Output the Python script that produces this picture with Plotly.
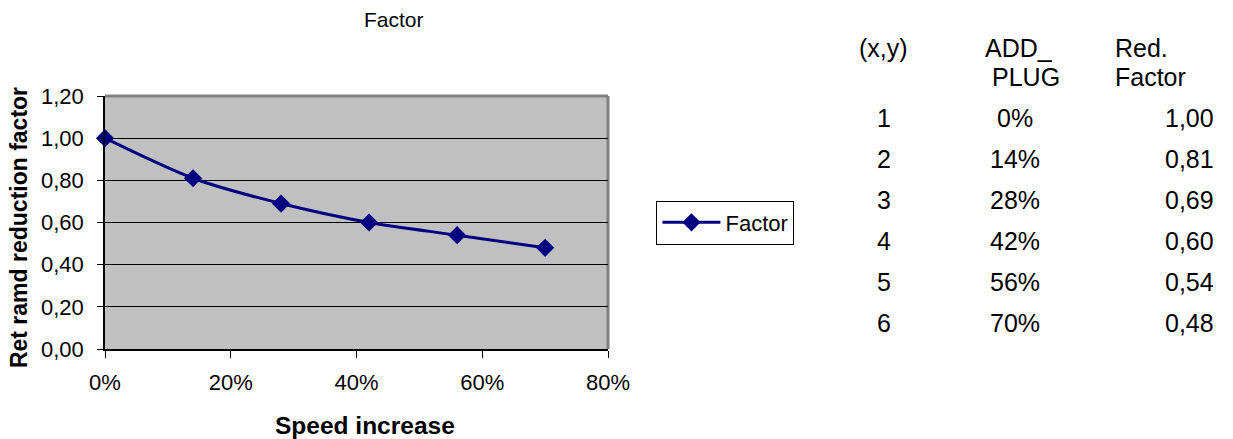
import plotly.graph_objects as go

# Speed increase (ADD_PLUG) and the resulting reduction factor
point_ids = [1, 2, 3, 4, 5, 6]
speed_increase = [0.00, 0.14, 0.28, 0.42, 0.56, 0.70]
red_factor = [1.00, 0.81, 0.69, 0.60, 0.54, 0.48]

x_ticks = [0.0, 0.2, 0.4, 0.6, 0.8]
y_ticks = [0.0, 0.2, 0.4, 0.6, 0.8, 1.0, 1.2]

FONT = "Liberation Sans, Arial, sans-serif"
NAVY = "#000080"

W, H = 1233, 439
PL, PR, PT, PB = 105, 608.5, 96, 349  # plot area edges in pixels

fig = go.Figure()
fig.add_trace(go.Scatter(
    x=speed_increase, y=red_factor, name="Factor",
    mode="lines+markers",
    line=dict(color=NAVY, width=3, shape="spline", smoothing=0.8),
    marker=dict(symbol="diamond", size=14, color=NAVY),
    cliponaxis=False,
))

def px_to_paper_x(px):
    return (px - PL) / (PR - PL)

def px_to_paper_y(py):
    return (PB - py) / (PB - PT)

def label(text, px, py, size, xanchor="center", **kw):
    return dict(text=text, x=px_to_paper_x(px), y=px_to_paper_y(py),
                xref="paper", yref="paper", showarrow=False,
                xanchor=xanchor, yanchor="middle",
                font=dict(size=size, color="black", family=FONT), **kw)

annotations = [
    label("Factor", 394, 19.5, 21),
    label("<b>Speed increase</b>", 365, 425, 24.5),
    label("<b>Ret ramd reduction factor</b>", 19, 228, 23, textangle=-90),
]

# side table with the plotted values
TS = 25
header_y1, header_y2 = 48, 77
row_y0, row_dy = 118, 41
annotations += [
    label("(x,y)", 884, header_y1, TS),
    label("ADD_", 1020, header_y1, TS),
    label("PLUG", 1027, header_y2, TS),
    label("Red.", 1114, header_y1, TS, xanchor="left"),
    label("Factor", 1114, header_y2, TS, xanchor="left"),
]
for i, (pid, sx, rf) in enumerate(zip(point_ids, speed_increase, red_factor)):
    ry = row_y0 + i * row_dy
    annotations.append(label(str(pid), 885, ry, TS))
    annotations.append(label(f"{round(sx * 100)}%", 1016, ry, TS))
    annotations.append(label(f"{rf:.2f}".replace(".", ","), 1217, ry, TS, xanchor="right"))

# grey frame on the top and right sides of the plot area
shapes = [
    dict(type="line", xref="paper", yref="paper", x0=0, x1=1, y0=1, y1=1,
         line=dict(color="#808080", width=3), layer="below"),
    dict(type="line", xref="paper", yref="paper", x0=1, x1=1, y0=0, y1=1,
         line=dict(color="#808080", width=3), layer="below"),
]

fig.update_layout(
    width=W, height=H,
    margin=dict(l=PL, r=W - PR, t=PT, b=H - PB, pad=0),
    paper_bgcolor="white", plot_bgcolor="#C0C0C0",
    separators=", ",
    font=dict(family=FONT, size=22, color="black"),
    showlegend=True,
    legend=dict(x=px_to_paper_x(657), xanchor="left", y=0.5, yanchor="middle",
                bordercolor="black", borderwidth=1, bgcolor="white",
                font=dict(size=22, family=FONT, color="black"), itemwidth=58),
    annotations=annotations,
    shapes=shapes,
)
fig.update_xaxes(range=[0, 0.8], tickvals=x_ticks, tickformat=".0%",
                 showline=True, linecolor="black", linewidth=1.5,
                 ticks="outside", ticklen=7, tickcolor="black", tickwidth=1,
                 showgrid=False, zeroline=False, fixedrange=True,
                 ticklabelstandoff=6,
                 tickfont=dict(size=22, family=FONT, color="black"))
fig.update_yaxes(range=[0, 1.2], tickvals=y_ticks, tickformat=".2f",
                 showline=True, linecolor="black", linewidth=1.5,
                 ticks="outside", ticklen=6, tickcolor="black", tickwidth=1,
                 showgrid=True, gridcolor="black", gridwidth=1, zeroline=False,
                 fixedrange=True, ticklabelstandoff=9,
                 tickfont=dict(size=22, family=FONT, color="black"))

fig.write_html("out.html")
